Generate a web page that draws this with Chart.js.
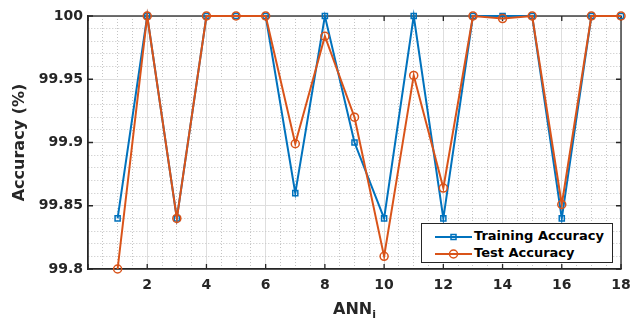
<!DOCTYPE html>
<html lang="en">
<head>
  <meta charset="UTF-8" />
  <title>Training vs Test Accuracy</title>
  <script src="https://cdn.jsdelivr.net/npm/chart.js"></script>
  <style>
    body {
      margin: 0;
      background: #ffffff;
      font-family: 'DejaVu Sans', sans-serif;
    }
    .wrap {
      position: relative;
      width: 634px;
      height: 320px;
    }
    /* x axis title with subscript */
    .x-title {
      position: absolute;
      left: 88px;
      width: 533px;
      top: 301px;
      text-align: center;
      font-weight: bold;
      font-size: 16px;
      line-height: 16px;
      color: #262626;
    }
    .x-title sub {
      font-size: 11px;
      line-height: 0;
    }
    /* legend box inside the plot */
    .legend {
      position: absolute;
      left: 421px;
      top: 223px;
      width: 190px;
      height: 35px;
      padding-top: 3px;
      border: 1px solid #262626;
      background: #ffffff;
    }
    .legend .row {
      height: 17px;
      line-height: 17px;
      font-size: 13px;
      font-weight: bold;
      color: #000;
      white-space: nowrap;
    }
    .legend svg {
      vertical-align: middle;
      margin-left: 13px;
      margin-right: 2px;
    }
  </style>
</head>
<body>
  <div class="wrap">
    <canvas id="accChart" width="634" height="320"></canvas>
    <div class="x-title">ANN<sub>i</sub></div>
    <div class="legend" id="legendBox"></div>
  </div>

  <script>
    // data
    const annIndex = [1, 2, 3, 4, 5, 6, 7, 8, 9, 10, 11, 12, 13, 14, 15, 16, 17, 18];
    const trainAcc = [99.84, 100, 99.84, 100, 100, 100, 99.86, 100, 99.90, 99.84, 100, 99.84, 100, 100, 100, 99.84, 100, 100];
    const testAcc  = [99.80, 100, 99.84, 100, 100, 100, 99.899, 99.984, 99.92, 99.81, 99.953, 99.864, 100, 99.998, 100, 99.851, 100, 100];
    const xTickLabels = [2, 4, 6, 8, 10, 12, 14, 16, 18];
    const yTickLabels = [99.8, 99.85, 99.9, 99.95, 100];

    const BLUE = '#0072BD';
    const ORANGE = '#D95319';
    const AXIS = '#262626';

    const isMajorY = v => yTickLabels.some(t => Math.abs(t - v) < 1e-6);
    const isMajorX = v => Math.abs(v / 2 - Math.round(v / 2)) < 1e-6;

    // box + inward tick marks, MATLAB style
    const boxPlugin = {
      id: 'box',
      beforeDatasetsDraw(chart) {
        const { ctx, chartArea: a, scales: { x, y } } = chart;
        ctx.save();
        ctx.strokeStyle = AXIS;
        ctx.lineWidth = 1.3;
        ctx.beginPath();
        x.ticks.forEach(t => {
          if (!isMajorX(t.value)) return;
          const px = x.getPixelForValue(t.value);
          ctx.moveTo(px, a.bottom); ctx.lineTo(px, a.bottom - 5);
          ctx.moveTo(px, a.top); ctx.lineTo(px, a.top + 5);
        });
        y.ticks.forEach(t => {
          if (!isMajorY(t.value)) return;
          const py = y.getPixelForValue(t.value);
          ctx.moveTo(a.left, py); ctx.lineTo(a.left + 5, py);
          ctx.moveTo(a.right, py); ctx.lineTo(a.right - 5, py);
        });
        ctx.stroke();
        ctx.strokeRect(a.left, a.top, a.right - a.left, a.bottom - a.top);
        ctx.restore();
      }
    };

    const ctx = document.getElementById('accChart').getContext('2d');
    new Chart(ctx, {
      type: 'line',
      data: {
        datasets: [{
          label: 'Training Accuracy',
          data: annIndex.map((n, i) => ({ x: n, y: trainAcc[i] })),
          borderColor: BLUE,
          backgroundColor: 'rgba(0,0,0,0)',
          borderWidth: 2,
          pointStyle: 'rect',
          pointRadius: 3.6,
          pointBorderWidth: 1.5,
          pointBackgroundColor: 'rgba(0,0,0,0)',
          pointBorderColor: BLUE,
          tension: 0,
          clip: false,
          order: 1
        }, {
          label: 'Test Accuracy',
          data: annIndex.map((n, i) => ({ x: n, y: testAcc[i] })),
          borderColor: ORANGE,
          backgroundColor: 'rgba(0,0,0,0)',
          borderWidth: 2,
          pointStyle: 'circle',
          pointRadius: 4,
          pointBorderWidth: 1.5,
          pointBackgroundColor: 'rgba(0,0,0,0)',
          pointBorderColor: ORANGE,
          tension: 0,
          clip: false,
          order: 0
        }]
      },
      options: {
        responsive: false,
        animation: false,
        layout: { padding: { top: 16, right: 13, left: 0, bottom: 0 } },
        plugins: {
          legend: { display: false },
          tooltip: { enabled: false }
        },
        scales: {
          x: {
            type: 'linear',
            min: 0,
            max: 18,
            // fixed height, and no extra room for the last label
            afterFit: s => { s.height = 51; s.paddingRight = 0; s.paddingLeft = 0; },
            ticks: {
              stepSize: 0.5,
              autoSkip: false,
              maxRotation: 0,
              padding: 8,
              color: AXIS,
              font: { family: 'DejaVu Sans', size: 14, weight: 'bold' },
              callback: v => (v > 0 && xTickLabels.some(t => Math.abs(t - v) < 1e-6)) ? String(v) : ''
            },
            grid: {
              drawTicks: false,
              lineWidth: 1,
              color: c => (c.tick && isMajorX(c.tick.value)) ? '#dedede' : '#c4c4c4'
            },
            border: {
              display: true,
              color: AXIS,
              width: 1.3,
              dash: c => (c.tick && !isMajorX(c.tick.value)) ? [1, 2] : []
            }
          },
          y: {
            type: 'linear',
            min: 99.8,
            max: 100,
            afterFit: s => { s.width = 88; s.paddingTop = 0; s.paddingBottom = 0; },
            title: {
              display: true,
              text: 'Accuracy (%)',
              color: AXIS,
              padding: { top: 10, bottom: 0 },
              font: { family: 'DejaVu Sans', size: 16, weight: 'bold' }
            },
            ticks: {
              stepSize: 0.01,
              autoSkip: false,
              padding: 5,
              color: AXIS,
              font: { family: 'DejaVu Sans', size: 14, weight: 'bold' },
              callback: v => {
                const t = yTickLabels.find(l => Math.abs(l - v) < 1e-6);
                return t === undefined ? '' : String(t);
              }
            },
            grid: {
              drawTicks: false,
              lineWidth: 1,
              color: c => (c.tick && isMajorY(c.tick.value)) ? '#dedede' : '#c4c4c4'
            },
            border: {
              display: true,
              color: AXIS,
              width: 1.3,
              dash: c => (c.tick && !isMajorY(c.tick.value)) ? [1, 2] : []
            }
          }
        }
      },
      plugins: [boxPlugin]
    });

    // legend: line sample with marker + label
    const legendItems = [
      { label: 'Training Accuracy', color: BLUE, marker: 'rect' },
      { label: 'Test Accuracy', color: ORANGE, marker: 'circle' }
    ];
    const box = document.getElementById('legendBox');
    legendItems.forEach(it => {
      const m = it.marker === 'rect'
        ? `<rect x="16" y="3.5" width="5" height="5" fill="none" stroke="${it.color}" stroke-width="1.5"/>`
        : `<circle cx="18.5" cy="6" r="4" fill="none" stroke="${it.color}" stroke-width="1.5"/>`;
      const row = document.createElement('div');
      row.className = 'row';
      row.innerHTML = `<svg width="37" height="12"><line x1="0" y1="6" x2="37" y2="6" stroke="${it.color}" stroke-width="2"/>${m}</svg>${it.label}`;
      box.appendChild(row);
    });
  </script>
</body>
</html>
